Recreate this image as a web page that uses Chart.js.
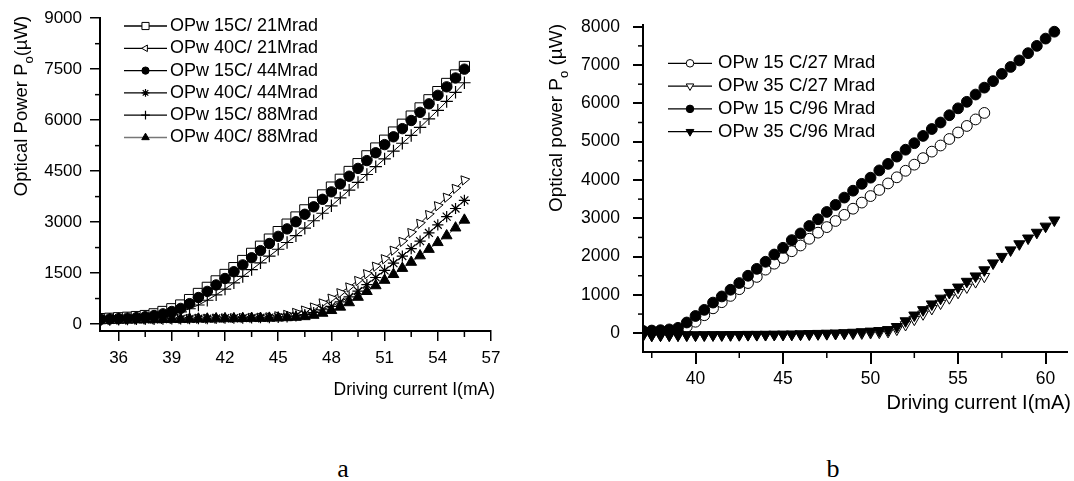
<!DOCTYPE html>
<html>
<head>
<meta charset="utf-8">
<script src="https://cdn.jsdelivr.net/npm/chart.js@4.4.1/dist/chart.umd.min.js"></script>
<style>
  body { margin: 0; background: #fff; width: 1074px; height: 481px; overflow: hidden; position: relative; }
  #chartA { position: absolute; left: 0; top: 0; }
  #chartB { position: absolute; left: 520px; top: 0; }
  .cap { position: absolute; width: 40px; text-align: center; font-family: "Liberation Serif", "Times New Roman", serif; font-size: 26px; line-height: 26px; color: #000; }
</style>
</head>
<body>
<canvas id="chartA" width="520" height="400"></canvas>
<canvas id="chartB" width="554" height="420"></canvas>
<div class="cap" style="left:323px; top:456px;">a</div>
<div class="cap" style="left:813px; top:456px;">b</div>

<script>
// --- DATA: panel a ---
const xA = [35, 35.5, 36, 36.5, 37, 37.5, 38, 38.5, 39, 39.5, 40, 40.5, 41, 41.5, 42, 42.5, 43, 43.5, 44, 44.5,
            45, 45.5, 46, 46.5, 47, 47.5, 48, 48.5, 49, 49.5, 50, 50.5, 51, 51.5, 52, 52.5, 53, 53.5, 54, 54.5, 55, 55.5];
const opw15c21 = [160, 170, 185, 200, 220, 250, 300, 370, 450, 560, 720, 900, 1080, 1270, 1460, 1660, 1870, 2080, 2290, 2500,
                  2720, 2940, 3150, 3360, 3580, 3800, 4030, 4260, 4490, 4720, 4950, 5180, 5410, 5650, 5880, 6120, 6360, 6600, 6840, 7080, 7330, 7580];
const opw40c21 = [130, 135, 140, 140, 145, 150, 150, 155, 160, 160, 165, 170, 170, 175, 180, 185, 190, 195, 200, 210,
                  240, 280, 340, 410, 500, 620, 760, 920, 1090, 1280, 1480, 1700, 1920, 2170, 2430, 2690, 2960, 3220, 3480, 3730, 3990, 4240];
const opw15c44 = [140, 150, 160, 175, 190, 215, 250, 300, 370, 460, 600, 780, 960, 1150, 1340, 1540, 1740, 1950, 2160, 2370,
                  2580, 2800, 3010, 3230, 3450, 3670, 3890, 4120, 4350, 4580, 4810, 5040, 5280, 5510, 5750, 5990, 6230, 6480, 6730, 6980, 7240, 7500];
const opw40c44 = [120, 125, 130, 130, 135, 140, 140, 145, 150, 150, 155, 160, 160, 165, 170, 170, 175, 180, 185, 190,
                  195, 210, 240, 280, 340, 420, 520, 650, 800, 970, 1160, 1370, 1580, 1790, 2000, 2220, 2440, 2680, 2920, 3160, 3400, 3640];
const opw15c88 = [130, 140, 150, 160, 170, 185, 205, 240, 290, 360, 450, 560, 700, 860, 1030, 1210, 1400, 1600, 1800, 2000,
                  2200, 2400, 2600, 2820, 3040, 3260, 3480, 3710, 3940, 4170, 4400, 4630, 4860, 5090, 5320, 5550, 5790, 6040, 6290, 6550, 6820, 7100];
const opw40c88 = [110, 115, 120, 120, 125, 130, 130, 135, 140, 140, 145, 150, 150, 155, 160, 160, 165, 170, 170, 175,
                  180, 190, 200, 220, 260, 320, 400, 500, 630, 790, 960, 1130, 1290, 1460, 1640, 1820, 2010, 2200, 2400, 2600, 2830, 3060];
const xTicksA = [36, 39, 42, 45, 48, 51, 54, 57];
const yTicksA = [0, 1500, 3000, 4500, 6000, 7500, 9000];
const labelsA = ['OPw 15C/ 21Mrad', 'OPw 40C/ 21Mrad', 'OPw 15C/ 44Mrad', 'OPw 40C/ 44Mrad', 'OPw 15C/ 88Mrad', 'OPw 40C/ 88Mrad'];

// --- DATA: panel b ---
const xB = [37, 37.5, 38, 38.5, 39, 39.5, 40, 40.5, 41, 41.5, 42, 42.5, 43, 43.5, 44, 44.5, 45, 45.5, 46, 46.5, 47, 47.5, 48, 48.5,
            49, 49.5, 50, 50.5, 51, 51.5, 52, 52.5, 53, 53.5, 54, 54.5, 55, 55.5, 56, 56.5, 57, 57.5, 58, 58.5, 59, 59.5, 60, 60.5];
const opw15c27 = [50, 55, 60, 70, 90, 170, 300, 470, 650, 810, 975, 1150, 1310, 1470, 1660, 1815, 1965, 2140, 2290, 2465, 2625, 2770, 2930,
                  3090, 3250, 3410, 3580, 3740, 3910, 4070, 4240, 4400, 4570, 4740, 4900, 5070, 5240, 5410, 5580, 5750];
const opw35c27 = [-60, -60, -58, -58, -56, -55, -55, -52, -50, -50, -48, -46, -45, -44, -42, -40, -38, -35, -32, -30, -25, -20, -15, -10,
                  -5, 0, 10, 20, 40, 100, 220, 360, 500, 640, 780, 920, 1060, 1200, 1340, 1480];
const opw15c96 = [60, 70, 80, 100, 140, 280, 450, 610, 800, 960, 1135, 1310, 1500, 1680, 1865, 2055, 2230, 2430, 2605, 2800, 2975, 3165, 3350,
                  3540, 3720, 3900, 4060, 4250, 4420, 4610, 4790, 4960, 5150, 5330, 5500, 5690, 5870, 6040, 6230, 6410, 6580, 6770, 6950,
                  7120, 7310, 7500, 7690, 7870];
const opw35c96 = [-50, -50, -48, -48, -46, -45, -45, -44, -42, -42, -40, -38, -36, -35, -33, -30, -28, -25, -20, -15, -10, -5, 0, 10,
                  20, 35, 50, 65, 90, 170, 320, 470, 610, 760, 910, 1060, 1200, 1350, 1490, 1650, 1830, 2000, 2170, 2330, 2480, 2630, 2790, 2950];
const xTicksB = [40, 45, 50, 55, 60];
const yTicksB = [0, 1000, 2000, 3000, 4000, 5000, 6000, 7000, 8000];
const labelsB = ['OPw 15 C/27 Mrad', 'OPw 35 C/27 Mrad', 'OPw 15 C/96 Mrad', 'OPw 35 C/96 Mrad'];

const xTitle = 'Driving current I(mA)';
const yTitleA = ['Optical Power P', 'o', '(\u00b5W)'];
const yTitleB = ['Optical power P', 'o', ' (\u00b5W)'];

const FONT = '"Liberation Sans", Arial, sans-serif';
Chart.defaults.font.family = FONT;
Chart.defaults.color = '#000';

const pts = (xs, ys) => ys.map((y, i) => ({ x: xs[i], y }));

// minor ticks sit half way between the labelled ones
function minorTicks(major, min, max) {
    const step = major[1] - major[0];
    const out = [];
    for (let v = major[0] - step / 2; v <= max; v += step) if (v >= min) out.push(v);
    return out;
}

function decorPlugin(cfg) {
    return {
        id: 'decor',
        afterDraw(chart) {
            const ctx = chart.ctx, xs = chart.scales.x, ys = chart.scales.y, a = chart.chartArea;
            ctx.save();
            ctx.strokeStyle = '#000';
            ctx.lineWidth = cfg.tickWidth;
            minorTicks(cfg.xTicks, xs.min, xs.max).forEach(v => {
                const p = xs.getPixelForValue(v);
                ctx.beginPath(); ctx.moveTo(p, a.bottom); ctx.lineTo(p, a.bottom + cfg.minorX); ctx.stroke();
            });
            minorTicks(cfg.yTicks, ys.min, ys.max).forEach(v => {
                const p = ys.getPixelForValue(v);
                ctx.beginPath(); ctx.moveTo(a.left, p); ctx.lineTo(a.left - cfg.minorY, p); ctx.stroke();
            });

            // x title
            ctx.fillStyle = '#000';
            ctx.font = cfg.xTitleSize + 'px ' + FONT;
            ctx.textAlign = 'right';
            ctx.textBaseline = 'middle';
            ctx.fillText(xTitle, cfg.xTitleX, cfg.xTitleY);

            // y title with subscript o
            const big = cfg.yTitleSize + 'px ' + FONT;
            const small = Math.round(cfg.yTitleSize * 0.68) + 'px ' + FONT;
            const t = cfg.yTitle;
            ctx.save();
            ctx.translate(cfg.yTitleX, cfg.yTitleY);
            ctx.rotate(-Math.PI / 2);
            ctx.font = big;
            const w0 = ctx.measureText(t[0]).width, w2 = ctx.measureText(t[2]).width;
            ctx.font = small;
            const w1 = ctx.measureText(t[1]).width;
            let x = -(w0 + w1 + w2) / 2;
            ctx.textAlign = 'left';
            ctx.textBaseline = 'alphabetic';
            ctx.font = big; ctx.fillText(t[0], x, 0); x += w0;
            ctx.font = small; ctx.fillText(t[1], x, cfg.yTitleSize * 0.3); x += w1;
            ctx.font = big; ctx.fillText(t[2], x, 0);
            ctx.restore();

            // legend: line - marker - line, then label
            chart.data.datasets.forEach((ds, i) => {
                const y = cfg.legY + i * cfg.legDy;
                ctx.strokeStyle = ds.legendLine || '#000';
                ctx.lineWidth = 1.3;
                ctx.beginPath(); ctx.moveTo(cfg.legX, y); ctx.lineTo(cfg.legX + cfg.legW, y); ctx.stroke();
                ctx.fillStyle = ds.pointBackgroundColor;
                ctx.strokeStyle = ds.pointBorderColor;
                ctx.lineWidth = ds.pointBorderWidth;
                Chart.helpers.drawPoint(ctx, {
                    pointStyle: ds.pointStyle,
                    radius: ds.pointRadius * 0.7,
                    rotation: ds.legendRotation !== undefined ? ds.legendRotation : (ds.pointRotation || 0),
                    borderWidth: ds.pointBorderWidth
                }, cfg.legX + cfg.legW / 2, y);
                ctx.fillStyle = '#000';
                ctx.font = cfg.legSize + 'px ' + FONT;
                ctx.textAlign = 'left';
                ctx.textBaseline = 'middle';
                ctx.fillText(ds.label, cfg.legX + cfg.legW + cfg.legGap, y);
            });
            ctx.restore();
        }
    };
}

function axis(ticksList, min, max, o) {
    return {
        type: 'linear',
        min: min,
        max: max,
        afterBuildTicks: s => { s.ticks = ticksList.map(v => ({ value: v })); },
        afterFit: s => { if (o.width) s.width = o.width; if (o.height) s.height = o.height; },
        ticks: { color: '#000', font: { size: o.font }, padding: o.pad, maxRotation: 0, autoSkip: false,
                 callback: v => String(v) },
        grid: { display: true, drawOnChartArea: false, drawTicks: true, tickLength: o.tick, color: '#000', lineWidth: o.lw },
        border: { display: true, color: '#000', width: 2 }
    };
}

function series(label, xs, ys, st) {
    return Object.assign({
        label: label,
        data: pts(xs, ys),
        showLine: true,
        borderColor: '#000',
        borderWidth: 1,
        pointBorderColor: '#000',
        pointBorderWidth: 1,
        pointBackgroundColor: '#fff',
        pointHoverRadius: 0
    }, st);
}

// --- PANEL a ---
new Chart(document.getElementById('chartA'), {
    type: 'scatter',
    data: {
        datasets: [
            series(labelsA[0], xA, opw15c21, { pointStyle: 'rect', pointRadius: 7.2, order: 3 }),
            series(labelsA[1], xA, opw40c21, { pointStyle: 'triangle', pointRadius: 5.4, pointRotation: 200, legendRotation: 270, order: 6 }),
            series(labelsA[2], xA, opw15c44, { pointStyle: 'circle', pointRadius: 5.2, pointBackgroundColor: '#000', order: 2 }),
            series(labelsA[3], xA, opw40c44, { pointStyle: 'star', pointRadius: 5.6, pointBorderWidth: 1.2, order: 5 }),
            series(labelsA[4], xA, opw15c88, { pointStyle: 'cross', pointRadius: 6.2, pointBorderWidth: 1.2, order: 1 }),
            series(labelsA[5], xA, opw40c88, { pointStyle: 'triangle', pointRadius: 6.2, pointBackgroundColor: '#000', borderColor: '#666', legendLine: '#777', order: 4 })
        ]
    },
    options: {
        responsive: false,
        animation: false,
        layout: { padding: { left: 0, top: 16, right: 29, bottom: 0 } },
        plugins: { legend: { display: false }, tooltip: { enabled: false } },
        scales: {
            x: axis(xTicksA, 34.95, 57, { height: 69, font: 17, pad: 7, tick: 10, lw: 1.5 }),
            y: axis(yTicksA, -205, 9000, { width: 100, font: 17, pad: 8, tick: 10, lw: 1.5 })
        }
    },
    plugins: [decorPlugin({
        xTicks: xTicksA, yTicks: yTicksA, tickWidth: 1.5, minorX: 6, minorY: 5,
        xTitleSize: 17.5, xTitleX: 495, xTitleY: 390,
        yTitle: yTitleA, yTitleSize: 18.5, yTitleX: 27, yTitleY: 106,
        legX: 124, legW: 43, legGap: 3, legY: 26, legDy: 22.3, legSize: 18
    })]
});

// --- PANEL b ---
new Chart(document.getElementById('chartB'), {
    type: 'scatter',
    data: {
        datasets: [
            series(labelsB[0], xB, opw15c27, { pointStyle: 'circle', pointRadius: 5.4, showLine: false, order: 2 }),
            series(labelsB[1], xB, opw35c27, { pointStyle: 'triangle', pointRadius: 6.2, pointRotation: 180, showLine: false, order: 3 }),
            series(labelsB[2], xB, opw15c96, { pointStyle: 'circle', pointRadius: 5.4, pointBackgroundColor: '#000', showLine: false, order: 1 }),
            series(labelsB[3], xB, opw35c96, { pointStyle: 'triangle', pointRadius: 6.4, pointRotation: 180, pointBackgroundColor: '#000', showLine: false, order: 0 })
        ]
    },
    options: {
        responsive: false,
        animation: false,
        layout: { padding: { left: 0, top: 25, right: 4, bottom: 0 } },
        plugins: { legend: { display: false }, tooltip: { enabled: false } },
        scales: {
            x: axis(xTicksB, 37, 61.2, { height: 68, font: 17.5, pad: 5, tick: 12, lw: 2 }),
            y: axis(yTicksB, -490, 8045, { width: 123, font: 17.5, pad: 13, tick: 10, lw: 2 })
        }
    },
    plugins: [decorPlugin({
        xTicks: xTicksB, yTicks: yTicksB, tickWidth: 1.5, minorX: 6, minorY: 5,
        xTitleSize: 20, xTitleX: 551, xTitleY: 403,
        yTitle: yTitleB, yTitleSize: 19, yTitleX: 42, yTitleY: 118,
        legX: 148, legW: 44, legGap: 6, legY: 63.3, legDy: 22.8, legSize: 18.5
    })]
});
</script>
</body>
</html>
